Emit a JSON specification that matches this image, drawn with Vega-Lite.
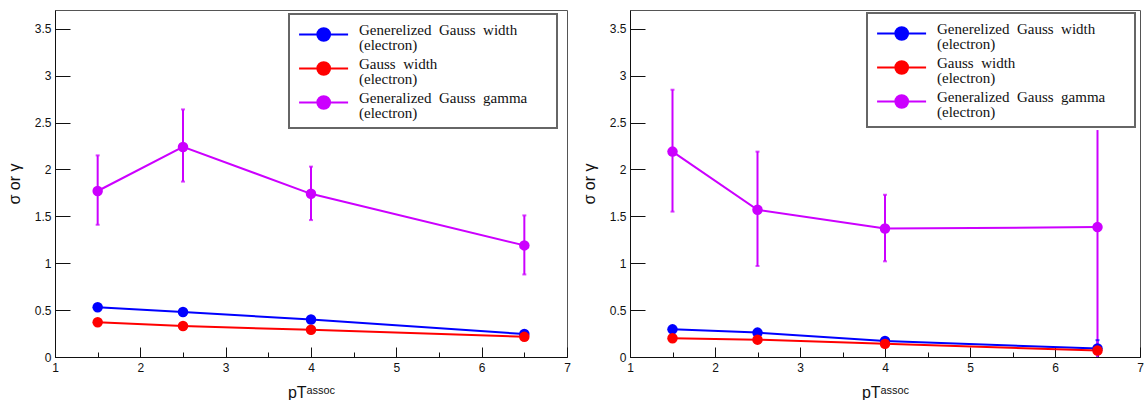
{
  "$schema": "https://vega.github.io/schema/vega-lite/v6.json",
  "padding": {"left": 5, "top": 9, "right": 5, "bottom": 5},
  "background": "white",
  "datasets": {
    "left": [
      {"series": "Generelized Gauss width|(electron)", "x": 1.5, "y": 0.53},
      {"series": "Generelized Gauss width|(electron)", "x": 2.5, "y": 0.48},
      {"series": "Generelized Gauss width|(electron)", "x": 4, "y": 0.40},
      {"series": "Generelized Gauss width|(electron)", "x": 6.5, "y": 0.245},
      {"series": "Gauss width|(electron)", "x": 1.5, "y": 0.37},
      {"series": "Gauss width|(electron)", "x": 2.5, "y": 0.33},
      {"series": "Gauss width|(electron)", "x": 4, "y": 0.29},
      {"series": "Gauss width|(electron)", "x": 6.5, "y": 0.215},
      {"series": "Generalized Gauss gamma|(electron)", "x": 1.5, "y": 1.77, "lo": 1.41, "hi": 2.15, "caplo": 1.41, "caphi": 2.15},
      {"series": "Generalized Gauss gamma|(electron)", "x": 2.5, "y": 2.24, "lo": 1.87, "hi": 2.64, "caplo": 1.87, "caphi": 2.64},
      {"series": "Generalized Gauss gamma|(electron)", "x": 4, "y": 1.74, "lo": 1.46, "hi": 2.03, "caplo": 1.46, "caphi": 2.03},
      {"series": "Generalized Gauss gamma|(electron)", "x": 6.5, "y": 1.19, "lo": 0.88, "hi": 1.51, "caplo": 0.88, "caphi": 1.51}
    ],
    "right": [
      {"series": "Generelized Gauss width|(electron)", "x": 1.5, "y": 0.295},
      {"series": "Generelized Gauss width|(electron)", "x": 2.5, "y": 0.26},
      {"series": "Generelized Gauss width|(electron)", "x": 4, "y": 0.17},
      {"series": "Generelized Gauss width|(electron)", "x": 6.5, "y": 0.09, "lo": 0.0, "hi": 0.18, "caphi": 0.18},
      {"series": "Gauss width|(electron)", "x": 1.5, "y": 0.20},
      {"series": "Gauss width|(electron)", "x": 2.5, "y": 0.185},
      {"series": "Gauss width|(electron)", "x": 4, "y": 0.14},
      {"series": "Gauss width|(electron)", "x": 6.5, "y": 0.07},
      {"series": "Generalized Gauss gamma|(electron)", "x": 1.5, "y": 2.19, "lo": 1.55, "hi": 2.85, "caplo": 1.55, "caphi": 2.85},
      {"series": "Generalized Gauss gamma|(electron)", "x": 2.5, "y": 1.57, "lo": 0.97, "hi": 2.19, "caplo": 0.97, "caphi": 2.19},
      {"series": "Generalized Gauss gamma|(electron)", "x": 4, "y": 1.37, "lo": 1.02, "hi": 1.73, "caplo": 1.02, "caphi": 1.73},
      {"series": "Generalized Gauss gamma|(electron)", "x": 6.5, "y": 1.385, "lo": 0.0, "hi": 2.42}
    ]
  },
  "config": {
    "view": {"stroke": "#555", "strokeWidth": 1},
    "axis": {
      "grid": false,
      "domainColor": "#111",
      "domainWidth": 1,
      "tickColor": "#111",
      "tickWidth": 1,
      "labelFont": "Liberation Sans",
      "labelFontSize": 12,
      "labelColor": "#111",
      "labelOverlap": false,
      "labelFlush": false,
      "titleFont": "Liberation Sans",
      "titleFontWeight": "normal",
      "titleFontSize": 16,
      "titleColor": "#111"
    },
    "axisX": {
      "values": [1,1.2,1.4,1.6,1.8,2,2.2,2.4,2.6,2.8,3,3.2,3.4,3.6,3.8,4,4.2,4.4,4.6,4.8,5,5.2,5.4,5.6,5.8,6,6.2,6.4,6.6,6.8,7],
      "labelExpr": "abs(datum.value - round(datum.value)) < 1e-6 ? format(datum.value, 'd') : ''",
      "tickSize": {"condition": {"test": "abs(datum.value - round(datum.value)) < 1e-6", "value": -10}, "value": -5},
      "labelPadding": 15,
      "titlePadding": 6
    },
    "axisY": {
      "values": [0,0.1,0.2,0.3,0.4,0.5,0.6,0.7,0.8,0.9,1,1.1,1.2,1.3,1.4,1.5,1.6,1.7,1.8,1.9,2,2.1,2.2,2.3,2.4,2.5,2.6,2.7,2.8,2.9,3,3.1,3.2,3.3,3.4,3.5,3.6],
      "labelExpr": "abs(datum.value*2 - round(datum.value*2)) < 1e-6 ? format(datum.value, '~g') : ''",
      "tickSize": {"condition": {"test": "abs(datum.value*2 - round(datum.value*2)) < 1e-6", "value": -15}, "value": -8},
      "labelPadding": 19,
      "titlePadding": 12
    },
    "legend": {
      "labelFont": "Liberation Serif",
      "labelFontSize": 15,
      "labelColor": "#111"
    }
  },
  "spacing": 63,
  "bounds": "flush",
  "resolve": {"scale": {"color": "independent"}, "legend": {"color": "independent"}},
  "hconcat": [
    {
      "width": 512,
      "height": 347,
      "data": {"name": "left"},
      "encoding": {
        "x": {
          "field": "x", "type": "quantitative",
          "scale": {"domain": [1, 7], "nice": false, "zero": false},
          "axis": {"title": "pTᵃˢˢᵒᶜ"}
        },
        "y": {
          "type": "quantitative",
          "scale": {"domain": [0, 3.7], "nice": false},
          "axis": {"title": "σ or γ"}
        },
        "color": {
          "field": "series", "type": "nominal",
          "scale": {
            "domain": ["Generelized Gauss width|(electron)", "Gauss width|(electron)", "Generalized Gauss gamma|(electron)"],
            "range": ["#0000ff", "#ff0000", "#cc00ff"]
          },
          "legend": {
            "title": null,
            "orient": "none",
            "legendX": 234,
            "legendY": 4,
            "fillColor": "white",
            "strokeColor": "#666",
            "padding": 7,
            "symbolType": "M-0.85,0L3.15,0M1.68,0A0.52,0.52,0,1,1,0.64,0A0.52,0.52,0,1,1,1.68,0Z",
            "symbolSize": 600,
            "symbolStrokeWidth": 2,
            "symbolOpacity": 1,
            "labelOffset": 36,
            "labelBaseline": "alphabetic",
            "labelLimit": 400,
            "rowPadding": 2,
            "labelExpr": "datum.label == 'Gauss width|(electron)' ? ['Gauss\u00a0\u00a0width', '(electron)'] : datum.label == 'Generelized Gauss width|(electron)' ? ['Generelized\u00a0\u00a0Gauss\u00a0\u00a0width', '(electron)'] : ['Generalized\u00a0\u00a0Gauss\u00a0\u00a0gamma\u2800\u2800', '(electron)']",
            "encode": {
              "legend": {"update": {"strokeWidth": {"value": 2}}},
              "labels": {"update": {"lineHeight": {"value": 15}}}
            }
          }
        }
      },
      "layer": [
        {"mark": {"type": "line", "strokeWidth": 2}, "encoding": {"y": {"field": "y"}}},
        {"mark": {"type": "rule", "strokeWidth": 2}, "encoding": {"y": {"field": "lo"}, "y2": {"field": "hi"}}},
        {"mark": {"type": "tick", "orient": "horizontal", "size": 4, "thickness": 2}, "encoding": {"y": {"field": "caplo"}}},
        {"mark": {"type": "tick", "orient": "horizontal", "size": 4, "thickness": 2}, "encoding": {"y": {"field": "caphi"}}},
        {"mark": {"type": "point", "filled": true, "opacity": 1, "size": 110, "shape": "circle"}, "encoding": {"y": {"field": "y"}}}
      ]
    },
    {
      "width": 510,
      "height": 347,
      "data": {"name": "right"},
      "encoding": {
        "x": {
          "field": "x", "type": "quantitative",
          "scale": {"domain": [1, 7], "nice": false, "zero": false},
          "axis": {"title": "pTᵃˢˢᵒᶜ"}
        },
        "y": {
          "type": "quantitative",
          "scale": {"domain": [0, 3.7], "nice": false},
          "axis": {"title": "σ or γ"}
        },
        "color": {
          "field": "series", "type": "nominal",
          "scale": {
            "domain": ["Generelized Gauss width|(electron)", "Gauss width|(electron)", "Generalized Gauss gamma|(electron)"],
            "range": ["#0000ff", "#ff0000", "#cc00ff"]
          },
          "legend": {
            "title": null,
            "orient": "none",
            "legendX": 237,
            "legendY": 3,
            "fillColor": "white",
            "strokeColor": "#666",
            "padding": 7,
            "symbolType": "M-0.85,0L3.15,0M1.68,0A0.52,0.52,0,1,1,0.64,0A0.52,0.52,0,1,1,1.68,0Z",
            "symbolSize": 600,
            "symbolStrokeWidth": 2,
            "symbolOpacity": 1,
            "labelOffset": 36,
            "labelBaseline": "alphabetic",
            "labelLimit": 400,
            "rowPadding": 2,
            "labelExpr": "datum.label == 'Gauss width|(electron)' ? ['Gauss\u00a0\u00a0width', '(electron)'] : datum.label == 'Generelized Gauss width|(electron)' ? ['Generelized\u00a0\u00a0Gauss\u00a0\u00a0width', '(electron)'] : ['Generalized\u00a0\u00a0Gauss\u00a0\u00a0gamma\u2800\u2800', '(electron)']",
            "encode": {
              "legend": {"update": {"strokeWidth": {"value": 2}}},
              "labels": {"update": {"lineHeight": {"value": 15}}}
            }
          }
        }
      },
      "layer": [
        {"mark": {"type": "line", "strokeWidth": 2}, "encoding": {"y": {"field": "y"}}},
        {"mark": {"type": "rule", "strokeWidth": 2}, "encoding": {"y": {"field": "lo"}, "y2": {"field": "hi"}}},
        {"mark": {"type": "tick", "orient": "horizontal", "size": 4, "thickness": 2}, "encoding": {"y": {"field": "caplo"}}},
        {"mark": {"type": "tick", "orient": "horizontal", "size": 4, "thickness": 2}, "encoding": {"y": {"field": "caphi"}}},
        {"mark": {"type": "point", "filled": true, "opacity": 1, "size": 110, "shape": "circle"}, "encoding": {"y": {"field": "y"}}}
      ]
    }
  ]
}
